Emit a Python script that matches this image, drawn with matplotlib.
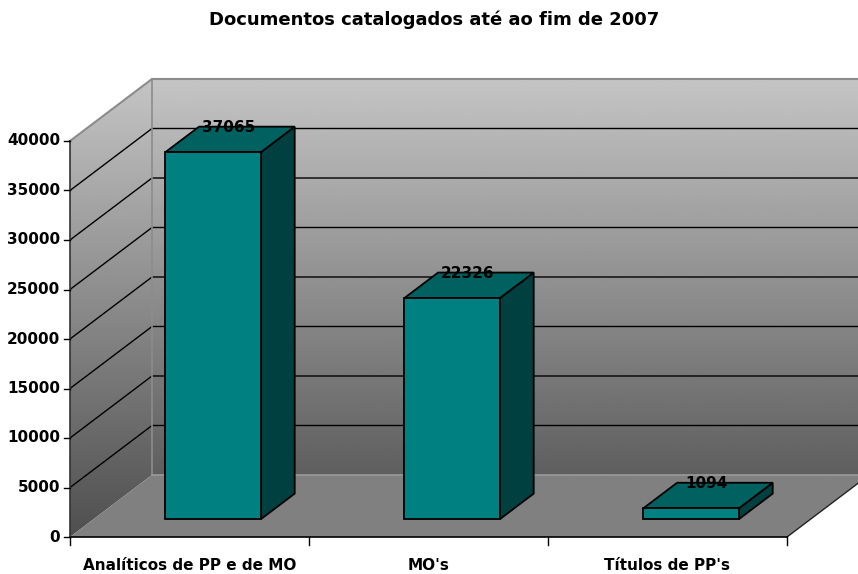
import numpy as np
import matplotlib
matplotlib.use("Agg")
import matplotlib.pyplot as plt
from matplotlib.patches import Polygon

# ---- data ----
title = "Documentos catalogados até ao fim de 2007"
categories = ["Analíticos de PP e de MO", "MO's", "Títulos de PP's"]
values = [37065, 22326, 1094]
yticks = [0, 5000, 10000, 15000, 20000, 25000, 30000, 35000, 40000]
ymax = 40000

# ---- geometry / style ----
W, H = 858, 574
px_x0, px_x1 = 70, 787          # front axis pixel span
px_y0 = 537                      # pixel row of value 0 (from top)
px_per_val = 396 / 40000
px_per_cat = (px_x1 - px_x0) / len(categories)
DX = 82 / px_per_cat             # full depth shift in category units
DY = 62 / px_per_val             # full depth shift in value units
bar_d0, bar_d1 = 0.29, 0.70      # bar depth span
bar_w = 0.40

front_col = "#008080"
top_col = "#006161"
side_col = "#004040"

fig = plt.figure(figsize=(W / 100, H / 100), dpi=100)
ax = fig.add_axes([0, 0, 1, 1])
ax.set_xlim(-px_x0 / px_per_cat, (W - px_x0) / px_per_cat)
ax.set_ylim(-(H - px_y0) / px_per_val, px_y0 / px_per_val)
ax.axis("off")

n = len(categories)

def P(x, v, d):
    return (x + d * DX, v + d * DY)

# walls with gradient
left_wall = Polygon([P(0, 0, 0), P(0, ymax, 0), P(0, ymax, 1), P(0, 0, 1)], closed=True,
                    facecolor="none", edgecolor="none")
back_wall = Polygon([P(0, 0, 1), P(0, ymax, 1), P(n, ymax, 1), P(n, 0, 1)], closed=True,
                    facecolor="none", edgecolor="none")
ax.add_patch(left_wall)
ax.add_patch(back_wall)
grad = np.linspace(0.77, 0.31, 256).reshape(-1, 1)
for wall in (left_wall, back_wall):
    im = ax.imshow(grad, cmap="gray", vmin=0, vmax=1, aspect="auto",
                   extent=[0, n + DX, 0, ymax + DY], origin="upper",
                   interpolation="bilinear", zorder=1)
    im.set_clip_path(wall)

# floor
floor = Polygon([P(0, 0, 0), P(n, 0, 0), P(n, 0, 1), P(0, 0, 1)], closed=True,
                facecolor="#808080", edgecolor="none", zorder=2)
ax.add_patch(floor)

# gridlines
for v in yticks[1:-1]:
    xs = [P(0, v, 0)[0], P(0, v, 1)[0], P(n, v, 1)[0]]
    ys = [P(0, v, 0)[1], P(0, v, 1)[1], P(n, v, 1)[1]]
    ax.plot(xs, ys, color="black", lw=1.0, zorder=3, solid_capstyle="butt")

# wall edges
edge = "#8c8c8c"
ax.plot([P(0, ymax, 0)[0], P(0, ymax, 1)[0], P(n, ymax, 1)[0]],
        [P(0, ymax, 0)[1], P(0, ymax, 1)[1], P(n, ymax, 1)[1]], color=edge, lw=1.5, zorder=3)
ax.plot([P(0, 0, 1)[0], P(0, ymax, 1)[0]], [P(0, 0, 1)[1], P(0, ymax, 1)[1]],
        color=edge, lw=1.2, zorder=3)
ax.plot([P(0, 0, 1)[0], P(n, 0, 1)[0]], [P(0, 0, 1)[1], P(n, 0, 1)[1]],
        color="#9a9a9a", lw=1.2, zorder=3)
# floor right edge & front edge
ax.plot([P(n, 0, 0)[0], P(n, 0, 1)[0]], [P(n, 0, 0)[1], P(n, 0, 1)[1]],
        color="#222222", lw=1.0, zorder=3)
ax.plot([0, n], [0, 0], color="black", lw=1.2, zorder=6)
ax.plot([0, 0], [0, ymax], color="#333333", lw=1.2, zorder=6)

# y ticks and labels
tick_len_x = 6 / px_per_cat
for v in yticks:
    ax.plot([-tick_len_x, 0], [v, v], color="black", lw=1.0, zorder=6)
    ax.text(-10 / px_per_cat, v, f"{v}", ha="right", va="center",
            fontsize=11, fontweight="bold", family="DejaVu Sans")

# x ticks
tick_len_v = 8 / px_per_val
for i in range(n + 1):
    ax.plot([i, i], [0, -tick_len_v], color="black", lw=1.0, zorder=6)
for i, c in enumerate(categories):
    ax.text(i + 0.5, -28 / px_per_val, c, ha="center", va="center",
            fontsize=11, fontweight="bold", family="DejaVu Sans")

# bars
for i, v in enumerate(values):
    x0 = i + 0.5 - bar_w / 2
    x1 = i + 0.5 + bar_w / 2
    front = [P(x0, 0, bar_d0), P(x1, 0, bar_d0), P(x1, v, bar_d0), P(x0, v, bar_d0)]
    top = [P(x0, v, bar_d0), P(x1, v, bar_d0), P(x1, v, bar_d1), P(x0, v, bar_d1)]
    side = [P(x1, 0, bar_d0), P(x1, 0, bar_d1), P(x1, v, bar_d1), P(x1, v, bar_d0)]
    for poly, col in ((side, side_col), (top, top_col), (front, front_col)):
        ax.add_patch(Polygon(poly, closed=True, facecolor=col, edgecolor="black",
                             lw=1.3, joinstyle="miter", zorder=5))
    lx, _ = P(i + 0.5, v, 0.48)
    _, ly = P(i + 0.5, v, 0.69)
    ax.text(lx, ly, f"{v}", ha="center", va="center", fontsize=11,
            fontweight="bold", family="DejaVu Sans", zorder=7)

# title
ax.text(P(1.5, 0, 0)[0] + 6 / px_per_cat, (px_y0 - 20) / px_per_val, title,
        ha="center", va="center", fontsize=13, fontweight="bold", family="DejaVu Sans")

fig.savefig("out.png", dpi=100)
